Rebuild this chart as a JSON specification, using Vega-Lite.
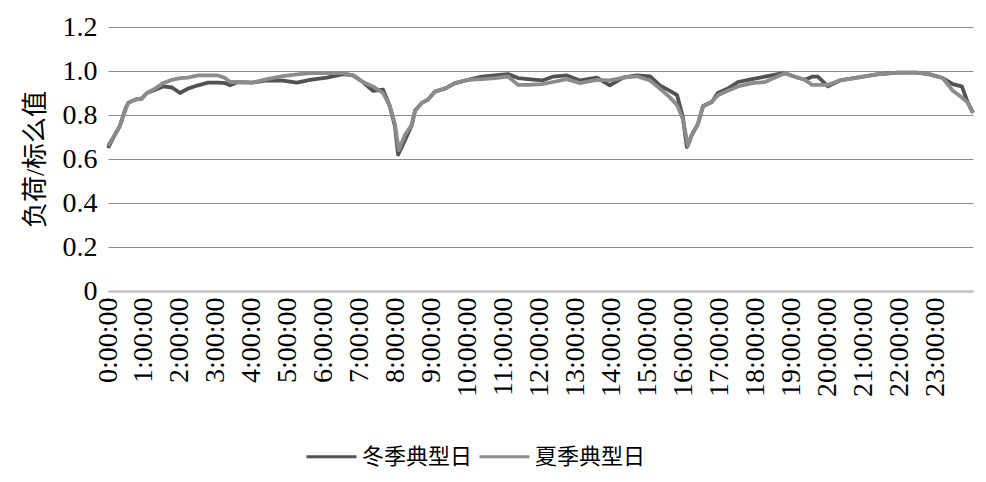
{
  "$schema": "https://vega.github.io/schema/vega-lite/v6.json",
  "width": 865,
  "height": 264,
  "autosize": {"type": "none"},
  "padding": {"left": 108, "top": 27, "right": 13, "bottom": 191},
  "background": "white",
  "config": {
    "view": {"stroke": null},
    "font": "Liberation Serif",
    "axis": {"labelFont": "Liberation Serif", "titleFont": "Liberation Serif, Noto Sans CJK SC"},
    "legend": {"labelFont": "Liberation Serif, Noto Sans CJK SC"}
  },
  "data": {"values": [
      {"s":"冬季典型日","t":0,"v":0.65},{"s":"冬季典型日","t":0.19,"v":0.71},{"s":"冬季典型日","t":0.33,"v":0.75},{"s":"冬季典型日","t":0.47,"v":0.82},{"s":"冬季典型日","t":0.56,"v":0.855},{"s":"冬季典型日","t":0.75,"v":0.87},{"s":"冬季典型日","t":0.94,"v":0.875},{"s":"冬季典型日","t":1.08,"v":0.9},{"s":"冬季典型日","t":1.31,"v":0.915},{"s":"冬季典型日","t":1.53,"v":0.93},{"s":"冬季典型日","t":1.78,"v":0.925},{"s":"冬季典型日","t":2.0,"v":0.9},{"s":"冬季典型日","t":2.22,"v":0.92},{"s":"冬季典型日","t":2.5,"v":0.935},{"s":"冬季典型日","t":2.78,"v":0.947},{"s":"冬季典型日","t":3.06,"v":0.947},{"s":"冬季典型日","t":3.25,"v":0.945},{"s":"冬季典型日","t":3.39,"v":0.935},{"s":"冬季典型日","t":3.61,"v":0.95},{"s":"冬季典型日","t":4.0,"v":0.947},{"s":"冬季典型日","t":4.42,"v":0.957},{"s":"冬季典型日","t":4.86,"v":0.956},{"s":"冬季典型日","t":5.25,"v":0.947},{"s":"冬季典型日","t":5.61,"v":0.96},{"s":"冬季典型日","t":6.08,"v":0.97},{"s":"冬季典型日","t":6.53,"v":0.986},{"s":"冬季典型日","t":6.81,"v":0.98},{"s":"冬季典型日","t":7.08,"v":0.95},{"s":"冬季典型日","t":7.36,"v":0.91},{"s":"冬季典型日","t":7.64,"v":0.915},{"s":"冬季典型日","t":7.83,"v":0.84},{"s":"冬季典型日","t":7.97,"v":0.75},{"s":"冬季典型日","t":8.06,"v":0.62},{"s":"冬季典型日","t":8.25,"v":0.686},{"s":"冬季典型日","t":8.44,"v":0.755},{"s":"冬季典型日","t":8.53,"v":0.82},{"s":"冬季典型日","t":8.72,"v":0.855},{"s":"冬季典型日","t":8.89,"v":0.87},{"s":"冬季典型日","t":9.08,"v":0.906},{"s":"冬季典型日","t":9.36,"v":0.92},{"s":"冬季典型日","t":9.64,"v":0.945},{"s":"冬季典型日","t":10.0,"v":0.96},{"s":"冬季典型日","t":10.39,"v":0.974},{"s":"冬季典型日","t":10.75,"v":0.98},{"s":"冬季典型日","t":11.11,"v":0.986},{"s":"冬季典型日","t":11.39,"v":0.968},{"s":"冬季典型日","t":11.67,"v":0.963},{"s":"冬季典型日","t":12.06,"v":0.957},{"s":"冬季典型日","t":12.36,"v":0.974},{"s":"冬季典型日","t":12.75,"v":0.98},{"s":"冬季典型日","t":13.11,"v":0.957},{"s":"冬季典型日","t":13.58,"v":0.97},{"s":"冬季典型日","t":13.94,"v":0.935},{"s":"冬季典型日","t":14.31,"v":0.97},{"s":"冬季典型日","t":14.69,"v":0.98},{"s":"冬季典型日","t":15.06,"v":0.976},{"s":"冬季典型日","t":15.33,"v":0.935},{"s":"冬季典型日","t":15.61,"v":0.91},{"s":"冬季典型日","t":15.81,"v":0.89},{"s":"冬季典型日","t":15.97,"v":0.79},{"s":"冬季典型日","t":16.08,"v":0.655},{"s":"冬季典型日","t":16.22,"v":0.71},{"s":"冬季典型日","t":16.39,"v":0.76},{"s":"冬季典型日","t":16.53,"v":0.84},{"s":"冬季典型日","t":16.78,"v":0.86},{"s":"冬季典型日","t":16.94,"v":0.9},{"s":"冬季典型日","t":17.22,"v":0.92},{"s":"冬季典型日","t":17.5,"v":0.95},{"s":"冬季典型日","t":17.89,"v":0.963},{"s":"冬季典型日","t":18.25,"v":0.974},{"s":"冬季典型日","t":18.61,"v":0.986},{"s":"冬季典型日","t":18.81,"v":0.99},{"s":"冬季典型日","t":19.08,"v":0.974},{"s":"冬季典型日","t":19.36,"v":0.96},{"s":"冬季典型日","t":19.56,"v":0.974},{"s":"冬季典型日","t":19.72,"v":0.974},{"s":"冬季典型日","t":20.0,"v":0.93},{"s":"冬季典型日","t":20.33,"v":0.957},{"s":"冬季典型日","t":20.81,"v":0.97},{"s":"冬季典型日","t":21.36,"v":0.985},{"s":"冬季典型日","t":21.92,"v":0.993},{"s":"冬季典型日","t":22.47,"v":0.993},{"s":"冬季典型日","t":22.83,"v":0.985},{"s":"冬季典型日","t":23.19,"v":0.968},{"s":"冬季典型日","t":23.47,"v":0.94},{"s":"冬季典型日","t":23.72,"v":0.93},{"s":"冬季典型日","t":23.89,"v":0.855},{"s":"冬季典型日","t":24.03,"v":0.81},
      {"s":"夏季典型日","t":0,"v":0.66},{"s":"夏季典型日","t":0.19,"v":0.71},{"s":"夏季典型日","t":0.33,"v":0.75},{"s":"夏季典型日","t":0.47,"v":0.82},{"s":"夏季典型日","t":0.56,"v":0.855},{"s":"夏季典型日","t":0.75,"v":0.87},{"s":"夏季典型日","t":0.94,"v":0.875},{"s":"夏季典型日","t":1.08,"v":0.9},{"s":"夏季典型日","t":1.31,"v":0.92},{"s":"夏季典型日","t":1.53,"v":0.945},{"s":"夏季典型日","t":1.78,"v":0.96},{"s":"夏季典型日","t":2.0,"v":0.968},{"s":"夏季典型日","t":2.22,"v":0.97},{"s":"夏季典型日","t":2.5,"v":0.98},{"s":"夏季典型日","t":2.78,"v":0.98},{"s":"夏季典型日","t":3.06,"v":0.98},{"s":"夏季典型日","t":3.25,"v":0.968},{"s":"夏季典型日","t":3.39,"v":0.95},{"s":"夏季典型日","t":3.61,"v":0.95},{"s":"夏季典型日","t":4.0,"v":0.947},{"s":"夏季典型日","t":4.42,"v":0.963},{"s":"夏季典型日","t":4.86,"v":0.977},{"s":"夏季典型日","t":5.25,"v":0.985},{"s":"夏季典型日","t":5.61,"v":0.99},{"s":"夏季典型日","t":6.08,"v":0.99},{"s":"夏季典型日","t":6.53,"v":0.99},{"s":"夏季典型日","t":6.81,"v":0.98},{"s":"夏季典型日","t":7.08,"v":0.95},{"s":"夏季典型日","t":7.36,"v":0.93},{"s":"夏季典型日","t":7.64,"v":0.9},{"s":"夏季典型日","t":7.83,"v":0.84},{"s":"夏季典型日","t":7.97,"v":0.76},{"s":"夏季典型日","t":8.08,"v":0.64},{"s":"夏季典型日","t":8.25,"v":0.71},{"s":"夏季典型日","t":8.44,"v":0.755},{"s":"夏季典型日","t":8.53,"v":0.82},{"s":"夏季典型日","t":8.72,"v":0.855},{"s":"夏季典型日","t":8.89,"v":0.87},{"s":"夏季典型日","t":9.08,"v":0.906},{"s":"夏季典型日","t":9.36,"v":0.92},{"s":"夏季典型日","t":9.64,"v":0.945},{"s":"夏季典型日","t":10.0,"v":0.96},{"s":"夏季典型日","t":10.39,"v":0.963},{"s":"夏季典型日","t":10.75,"v":0.968},{"s":"夏季典型日","t":11.11,"v":0.975},{"s":"夏季典型日","t":11.39,"v":0.937},{"s":"夏季典型日","t":11.67,"v":0.937},{"s":"夏季典型日","t":12.06,"v":0.94},{"s":"夏季典型日","t":12.36,"v":0.95},{"s":"夏季典型日","t":12.75,"v":0.963},{"s":"夏季典型日","t":13.11,"v":0.945},{"s":"夏季典型日","t":13.58,"v":0.96},{"s":"夏季典型日","t":13.94,"v":0.957},{"s":"夏季典型日","t":14.31,"v":0.97},{"s":"夏季典型日","t":14.69,"v":0.976},{"s":"夏季典型日","t":15.06,"v":0.957},{"s":"夏季典型日","t":15.33,"v":0.92},{"s":"夏季典型日","t":15.61,"v":0.88},{"s":"夏季典型日","t":15.81,"v":0.845},{"s":"夏季典型日","t":15.97,"v":0.78},{"s":"夏季典型日","t":16.11,"v":0.66},{"s":"夏季典型日","t":16.22,"v":0.71},{"s":"夏季典型日","t":16.39,"v":0.76},{"s":"夏季典型日","t":16.53,"v":0.84},{"s":"夏季典型日","t":16.78,"v":0.86},{"s":"夏季典型日","t":16.94,"v":0.89},{"s":"夏季典型日","t":17.22,"v":0.91},{"s":"夏季典型日","t":17.5,"v":0.93},{"s":"夏季典型日","t":17.89,"v":0.945},{"s":"夏季典型日","t":18.25,"v":0.95},{"s":"夏季典型日","t":18.61,"v":0.976},{"s":"夏季典型日","t":18.81,"v":0.99},{"s":"夏季典型日","t":19.08,"v":0.974},{"s":"夏季典型日","t":19.36,"v":0.96},{"s":"夏季典型日","t":19.56,"v":0.937},{"s":"夏季典型日","t":19.72,"v":0.937},{"s":"夏季典型日","t":20.0,"v":0.937},{"s":"夏季典型日","t":20.33,"v":0.957},{"s":"夏季典型日","t":20.81,"v":0.97},{"s":"夏季典型日","t":21.36,"v":0.985},{"s":"夏季典型日","t":21.92,"v":0.993},{"s":"夏季典型日","t":22.47,"v":0.993},{"s":"夏季典型日","t":22.83,"v":0.985},{"s":"夏季典型日","t":23.19,"v":0.968},{"s":"夏季典型日","t":23.47,"v":0.91},{"s":"夏季典型日","t":23.72,"v":0.88},{"s":"夏季典型日","t":23.89,"v":0.855},{"s":"夏季典型日","t":24.03,"v":0.81}
  ]},
  "mark": {"type": "line", "strokeWidth": 3.8, "strokeJoin": "round"},
  "encoding": {
    "x": {"field": "t", "type": "quantitative",
      "scale": {"domain": [0, 24.03], "nice": false, "zero": false},
      "axis": {"values": [0,1,2,3,4,5,6,7,8,9,10,11,12,13,14,15,16,17,18,19,20,21,22,23],
        "labelExpr": "datum.value + ':00:00'", "labelAngle": -90, "labelFontSize": 28,
        "labelColor": "black", "labelPadding": 6, "ticks": false, "grid": false,
        "domainColor": "#c0c0c0", "domainWidth": 2.5, "title": null,
        "labelOverlap": false, "labelBound": false, "labelFlush": false}},
    "y": {"field": "v", "type": "quantitative",
      "scale": {"domain": [0, 1.2], "nice": false},
      "axis": {"values": [0, 0.2, 0.4, 0.6, 0.8, 1.0, 1.2],
        "labelExpr": "datum.value == 0 ? '0' : format(datum.value, '.1f')",
        "labelFontSize": 28, "labelColor": "black", "labelPadding": 11,
        "ticks": false, "domain": false, "grid": true, "gridColor": "#8c8c8c", "gridWidth": 1,
        "labelOverlap": false,
        "title": "负荷/标么值", "titleFontSize": 26, "titleFontWeight": "normal",
        "titleColor": "black", "titlePadding": 14}},
    "color": {"field": "s", "type": "nominal",
      "sort": ["冬季典型日", "夏季典型日"],
      "scale": {"domain": ["冬季典型日", "夏季典型日"], "range": ["#525252", "#8c8c8c"]},
      "legend": {"orient": "none", "legendX": 197, "legendY": 403, "direction": "horizontal",
        "title": null, "symbolType": "stroke", "symbolSize": 2500, "symbolStrokeWidth": 3,
        "labelFontSize": 22, "labelColor": "black", "columnPadding": 0, "labelOffset": 4,
        "symbolOffset": 0}}
  }
}
